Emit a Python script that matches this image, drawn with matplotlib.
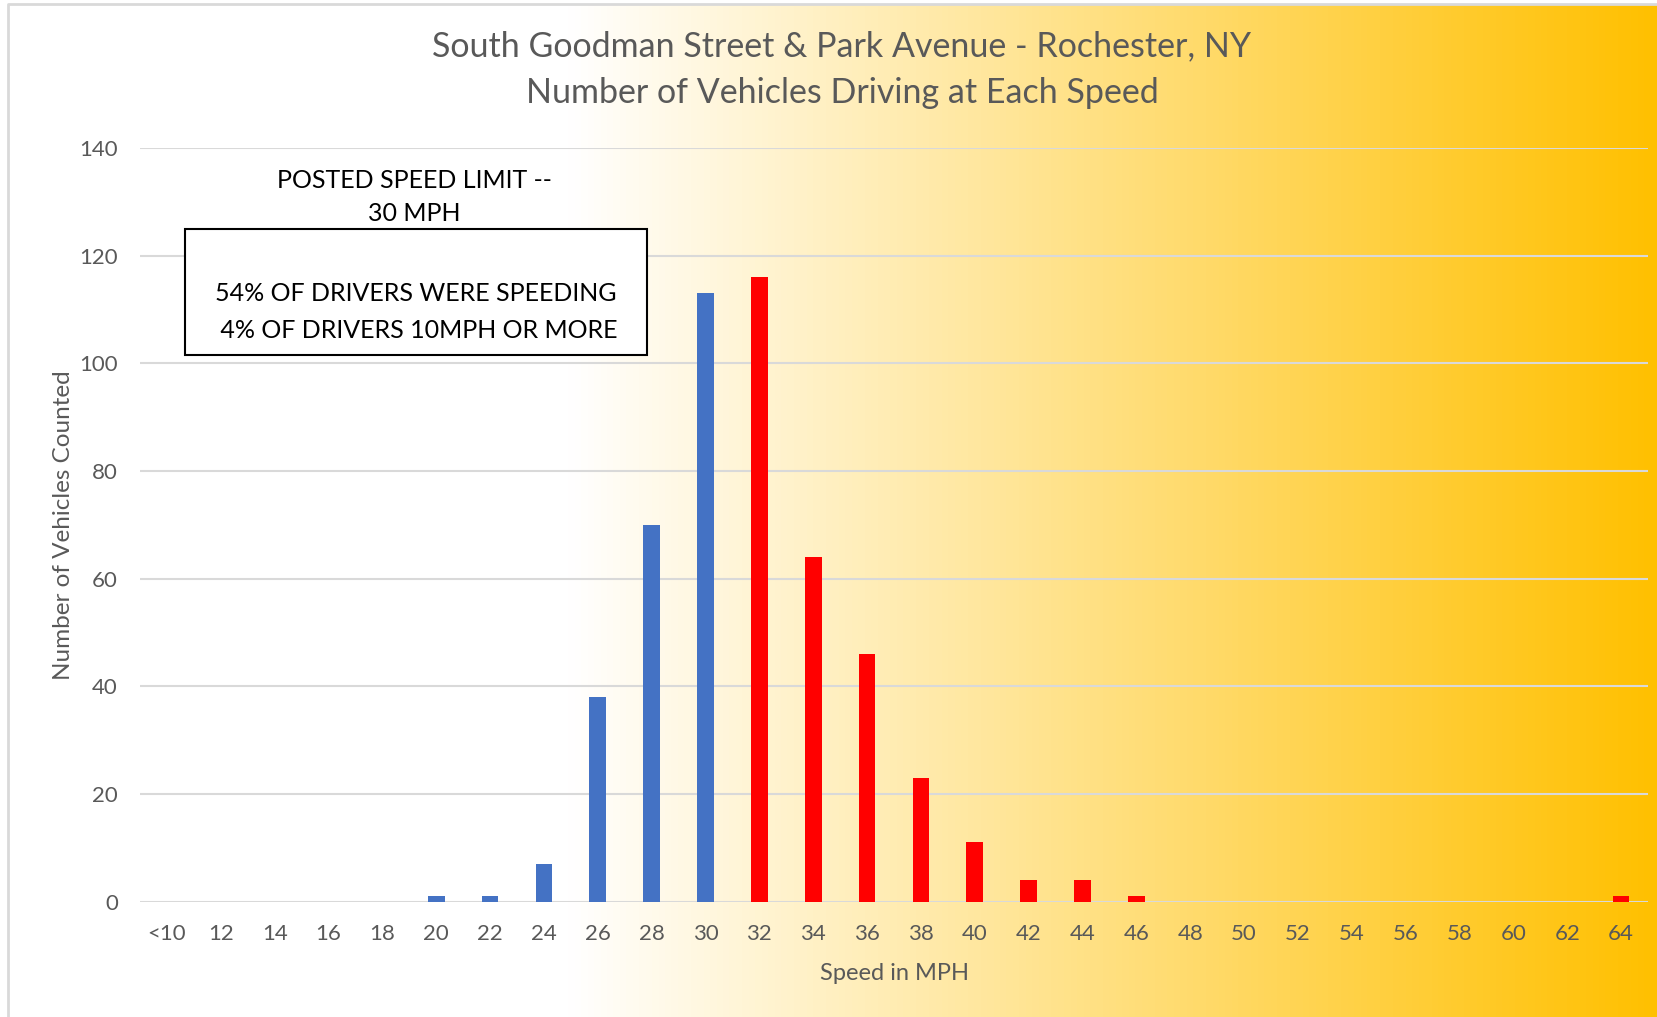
import numpy as np
import matplotlib.pyplot as plt
from matplotlib.colors import LinearSegmentedColormap
from matplotlib.patches import Rectangle

speeds = ['<10', '12', '14', '16', '18', '20', '22', '24', '26', '28', '30', '32', '34', '36',
          '38', '40', '42', '44', '46', '48', '50', '52', '54', '56', '58', '60', '62', '64']
counts = [0, 0, 0, 0, 0, 1, 1, 7, 38, 70, 113, 116, 64, 46,
          23, 11, 4, 4, 1, 0, 0, 0, 0, 0, 0, 0, 0, 1]
speed_limit_idx = 10  # "30" -> anything after is speeding
y_ticks = [0, 20, 40, 60, 80, 100, 120, 140]

plt.rcParams['font.family'] = ['Lato', 'DejaVu Sans']
gray = '#595959'

W, H = 1657, 1017
fig = plt.figure(figsize=(W / 100, H / 100), dpi=100)

# background gradient: white on the left, gold on the right
bg = fig.add_axes([0, 0, 1, 1], zorder=-2)
bg.set_xlim(0, W)
bg.set_ylim(H, 0)
bg.axis('off')
cmap = LinearSegmentedColormap.from_list('bg', [(0, '#FFFFFF'), (0.34, '#FFFFFF'), (1, '#FFC000')])
grad = np.linspace(0, 1, 512).reshape(1, -1)
bg.imshow(grad, cmap=cmap, aspect='auto', extent=[8, W, H, 4])
bg.plot([8, 8, W], [H, 4, 4], color='#D9D9D9', lw=2)

ax = fig.add_axes([140 / W, 1 - 901.5 / H, 1508 / W, 753.5 / H])
ax.patch.set_alpha(0)
x = np.arange(len(speeds))
colors = ['#4472C4' if i <= speed_limit_idx else '#FF0000' for i in range(len(speeds))]
ax.bar(x, counts, width=0.31, color=colors, zorder=3)

ax.set_xlim(-0.5, len(speeds) - 0.5)
ax.set_ylim(0, 140)
ax.set_yticks(y_ticks)
ax.set_xticks(x)
ax.set_xticklabels(speeds)
ax.grid(axis='y', color='#D9D9D9', lw=1.5, zorder=0)
ax.set_axisbelow(True)
for s in ax.spines.values():
    s.set_visible(False)
ax.tick_params(length=0, labelsize=16, colors=gray)
ax.tick_params(axis='x', pad=16)
ax.tick_params(axis='y', pad=16)
ax.set_xlabel('Speed in MPH', fontsize=17, color=gray, labelpad=14)
ax.set_ylabel('Number of Vehicles Counted', fontsize=17.5, color=gray, labelpad=4)

fig.text(842 / W, 1 - 46.5 / H, 'South Goodman Street & Park Avenue - Rochester, NY',
         ha='center', va='center', fontsize=24.5, color=gray)
fig.text(842 / W, 1 - 93 / H, 'Number of Vehicles Driving at Each Speed',
         ha='center', va='center', fontsize=24.5, color=gray)

ax.text(4.59, 134, 'POSTED SPEED LIMIT --', ha='center', va='center', fontsize=18, color='black')
ax.text(4.59, 127.8, '30 MPH', ha='center', va='center', fontsize=18, color='black')
ax.add_patch(Rectangle((0.33, 101.5), 8.58, 23.5, facecolor='white', edgecolor='black',
                       lw=1.5, zorder=4, clip_on=False))
ax.text(4.62, 113.0, '54% OF DRIVERS WERE SPEEDING', ha='center', va='center',
        fontsize=18, color='black', zorder=5)
ax.text(4.62, 106.1, ' 4% OF DRIVERS 10MPH OR MORE', ha='center', va='center',
        fontsize=18, color='black', zorder=5)

fig.savefig('out.png', dpi=100)
